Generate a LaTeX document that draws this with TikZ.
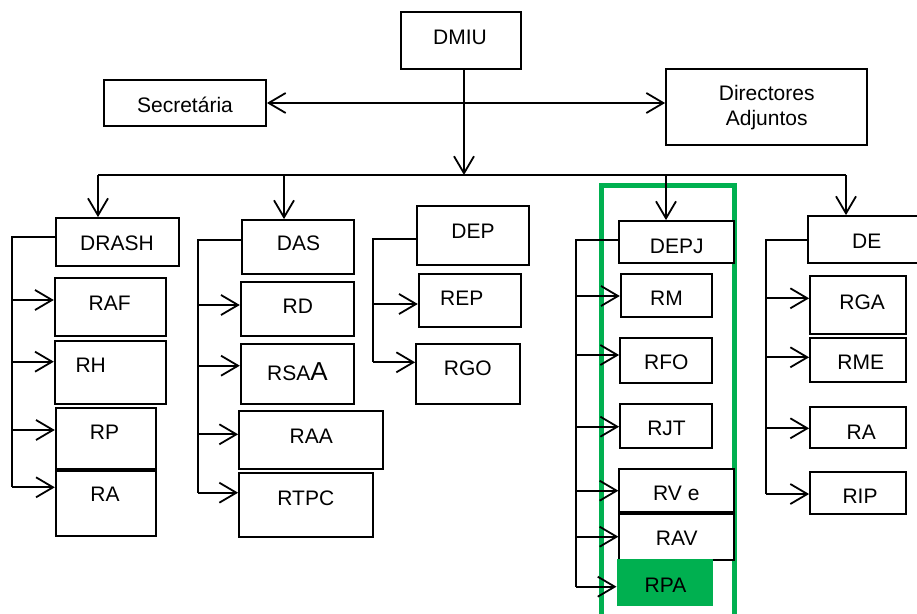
\documentclass[tikz,border=0pt]{standalone}
\usepackage{fontspec}
\setmainfont{Liberation Sans}
\usetikzlibrary{fit,arrows.meta}
\definecolor{grn}{HTML}{00B050}
\tikzset{
  bx/.style={draw=black, line width=1.8pt, fill=white, inner sep=0pt},
  lbl/.style={font=\fontsize{21}{25}\selectfont, inner sep=0pt, text height=15pt, text depth=0pt, anchor=center},
  ln/.style={line width=1.8pt},
  arr/.style={ln, -{Straight Barb[length=17pt,width=20pt]}},
}
\newcommand{\obox}[8]{%
  \node[bx, fit={(#2,#3) (#4,#5)}] (#1) {};
  \node[lbl] (#1-t) at (#6,#7) {#8};}
\begin{document}
\begin{tikzpicture}[x=1pt,y=-1pt]
\useasboundingbox (0,0) rectangle (917,613);
\clip (0,0) rectangle (917,613);
% green frame
\draw[grn, line width=4.6pt] (601.7,630) -- (601.7,185.3) -- (734.3,185.3) -- (734.3,630);
% top level
\obox{dmiu}{401}{12}{521}{69}{460}{36.5}{DMIU}
\obox{sec}{104}{80}{266}{126}{185}{104.5}{Secretária}
\node[bx, fit={(666,69) (867,145)}] (dirs) {};
\node[lbl] (dirs-t1) at (766.7,93) {Directores};
\node[lbl] (dirs-t2) at (766.7,117.5) {Adjuntos};
% departments
\obox{drash}{55.7}{218}{179}{265.7}{117}{242.8}{DRASH}
\obox{das}{242.3}{220}{354.3}{274}{298.5}{243.3}{DAS}
\obox{dep}{416.7}{206}{529.3}{265}{473}{231.2}{DEP}
\obox{depj}{619.3}{221}{734}{262.7}{676.7}{245.5}{DEPJ}
\obox{de}{807.7}{216}{930}{263.3}{866.7}{240.7}{DE}
% DRASH children
\obox{raf}{54.7}{278.3}{165.7}{335.7}{109.7}{302.5}{RAF}
\obox{rh}{54.7}{340.7}{165.7}{404}{90.7}{364.5}{RH}
\obox{rp}{55.7}{408.3}{155.7}{469}{104.5}{431.7}{RP}
\obox{raone}{55.7}{470.7}{155.7}{536}{105}{494.2}{RA}
% DAS children
\obox{rd}{240.7}{282.3}{354.3}{335.7}{297.8}{305.8}{RD}
\obox{rsaa}{240.7}{344.3}{354.3}{404}{297.5}{372.5}{RSA{\fontsize{26}{30}\selectfont A}}
\obox{raa}{239}{411}{383.3}{469}{311.3}{435.8}{RAA}
\obox{rtpc}{239}{473.3}{372.7}{536.7}{305.8}{498.2}{RTPC}
% DEP children
\obox{rep}{418.7}{274}{521.3}{327.3}{461.7}{297.5}{REP}
\obox{rgo}{416}{344}{520}{404.3}{467.8}{367.8}{RGO}
% DEPJ children
\obox{rm}{620.7}{274}{712.3}{316.7}{666.5}{297.5}{RM}
\obox{rfo}{620}{338.3}{712.3}{382.7}{666.3}{361.7}{RFO}
\obox{rjt}{620}{404.3}{712.3}{448.3}{666.5}{428.3}{RJT}
\obox{rve}{619.3}{469}{734}{512.3}{676.3}{492.5}{RV e}
\obox{rav}{619.3}{514.3}{734}{560}{676.7}{537.5}{RAV}
\node[fill=grn, inner sep=0pt, fit={(616.7,559.3) (713.3,606)}] (rpa) {};
\node[lbl] (rpa-t) at (665.5,584.7) {RPA};
% DE children
\obox{rga}{810}{276}{905.7}{334.3}{862.2}{301.7}{RGA}
\obox{rme}{810}{338.3}{905.7}{382.3}{860.8}{362.2}{RME}
\obox{ratwo}{810}{407.3}{905.7}{447.7}{861.3}{431.7}{RA}
\obox{rip}{810}{471.7}{905.7}{514}{860}{496.3}{RIP}
% top connectors
\draw[ln, {Straight Barb[length=17pt,width=20pt]}-{Straight Barb[length=17pt,width=20pt]}] (sec.east) -- (sec.east -| dirs.west);
\coordinate (bc) at (464,175);
\draw[arr] (dmiu.south -| bc) -- (bc);
\coordinate (bl) at (98,175);
\coordinate (bb) at (284,175);
\coordinate (bd) at (666,175);
\coordinate (br) at (846,175);
\draw[ln] (bl) -- (br);
\draw[arr] (bl) -- (bl |- drash.north);
\draw[arr] (bb) -- (bb |- das.north);
\draw[arr] (bd) -- (bd |- depj.north);
\draw[arr] (br) -- (br |- de.north);
% DRASH bracket
\coordinate (a0) at (11.7,236.7);
\coordinate (a1) at (11.7,300);
\coordinate (a2) at (11.7,361.7);
\coordinate (a3) at (11.7,430);
\coordinate (a4) at (11.7,487.3);
\draw[ln] (a0 -| drash.west) -- (a0) -- (a4);
\draw[arr] (a1) -- (a1 -| raf.west);
\draw[arr] (a2) -- (a2 -| rh.west);
\draw[arr] (a3) -- (a3 -| rp.west);
\draw[arr] (a4) -- (a4 -| raone.west);
% DAS bracket
\coordinate (s0) at (198.3,240);
\coordinate (s1) at (198.3,305);
\coordinate (s2) at (198.3,365.7);
\coordinate (s3) at (198.3,434.3);
\coordinate (s4) at (198.3,492.7);
\draw[ln] (s0 -| das.west) -- (s0) -- (s4);
\draw[arr] (s1) -- (s1 -| rd.west);
\draw[arr] (s2) -- (s2 -| rsaa.west);
\draw[arr] (s3) -- (s3 -| raa.west);
\draw[arr] (s4) -- (s4 -| rtpc.west);
% DEP bracket
\coordinate (p0) at (372.7,239);
\coordinate (p1) at (372.7,304);
\coordinate (p2) at (372.7,362.3);
\draw[ln] (p0 -| dep.west) -- (p0) -- (p2);
\draw[arr] (p1) -- (p1 -| rep.west);
\draw[arr] (p2) -- (p2 -| rgo.west);
% DEPJ bracket
\coordinate (j0) at (575.7,240);
\coordinate (j1) at (575.7,296);
\coordinate (j2) at (575.7,355);
\coordinate (j3) at (575.7,426.7);
\coordinate (j4) at (575.7,490.7);
\coordinate (j5) at (575.7,536.7);
\coordinate (j6) at (575.7,586.7);
\draw[ln] (j0 -| depj.west) -- (j0) -- (j6);
\draw[arr] (j1) -- (j1 -| rm.west);
\draw[arr] (j2) -- (j2 -| rfo.west);
\draw[arr] (j3) -- (j3 -| rjt.west);
\draw[arr] (j4) -- (j4 -| rve.west);
\draw[arr] (j5) -- (j5 -| rav.west);
\draw[arr] (j6) -- (j6 -| rpa.west);
% DE bracket
\coordinate (e0) at (765.7,240);
\coordinate (e1) at (765.7,298.3);
\coordinate (e2) at (765.7,357.3);
\coordinate (e3) at (765.7,428.3);
\coordinate (e4) at (765.7,494);
\draw[ln] (e0 -| de.west) -- (e0) -- (e4);
\draw[arr] (e1) -- (e1 -| rga.west);
\draw[arr] (e2) -- (e2 -| rme.west);
\draw[arr] (e3) -- (e3 -| ratwo.west);
\draw[arr] (e4) -- (e4 -| rip.west);
\end{tikzpicture}
\end{document}
